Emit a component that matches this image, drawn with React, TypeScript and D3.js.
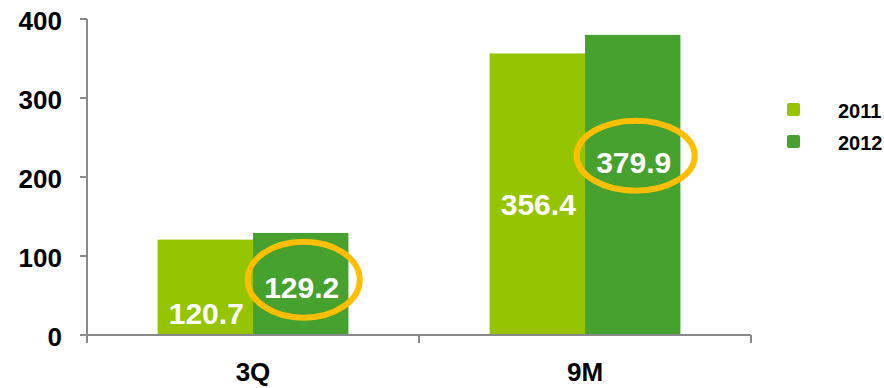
import React from "react";
import * as d3 from "d3";

const categories = ["3Q", "9M"];
const seriesNames = ["2011", "2012"];
const values2011 = [120.7, 356.4];
const values2012 = [129.2, 379.9];
const yTicks = [0, 100, 200, 300, 400];
// label anchor heights (in data units) for the value labels
const labelAt2011 = [28, 167];
const labelAt2012 = [61, 220];
const highlightAt = [70, 227];

const colors = ["#95C500", "#46A12F"];
const W = 884, H = 388;
const x0 = 87, x1 = 751, yTop = 19, yBase = 335;

export default function App() {
  const y = d3.scaleLinear().domain([0, 400]).range([yBase, yTop]);
  const xCat = d3.scaleBand().domain(categories).range([x0, x1]).padding(0);
  const xSer = d3.scaleBand().domain(seriesNames).range([0, xCat.bandwidth()]).paddingOuter(0.74).paddingInner(0);
  const series = [values2011, values2012];
  const labelAts = [labelAt2011, labelAt2012];
  const font = "'Liberation Sans', Arial, sans-serif";
  return (
    <svg width={W} height={H} style={{ position: "absolute", left: 0, top: 0 }} fontFamily={font}>
      <rect width={W} height={H} fill="#fff" />
      {categories.map((c, ci) =>
        seriesNames.map((s, si) => {
          const v = series[si][ci];
          const bx = (xCat(c) as number) + (xSer(s) as number);
          return (
            <rect key={c + s} x={bx} y={y(v)} width={xSer.bandwidth()} height={yBase - y(v)} fill={colors[si]} />
          );
        })
      )}
      {/* axes */}
      <line x1={x0} y1={yTop} x2={x0} y2={yBase + 8} stroke="#898989" strokeWidth={2} />
      <line x1={x0} y1={yBase} x2={x1} y2={yBase} stroke="#898989" strokeWidth={2} />
      {yTicks.map((t) => (
        <g key={t}>
          <line x1={80} x2={x0} y1={y(t)} y2={y(t)} stroke="#898989" strokeWidth={2} />
          <text x={62} y={y(t) + 2} textAnchor="end" dominantBaseline="central" fontSize={26} fontWeight="bold" fill="#000">
            {t}
          </text>
        </g>
      ))}
      {categories.map((c) => (
        <g key={c}>
          <line x1={(xCat(c) as number) + xCat.bandwidth()} x2={(xCat(c) as number) + xCat.bandwidth()} y1={yBase} y2={yBase + 8} stroke="#898989" strokeWidth={2} />
          <text x={(xCat(c) as number) + xCat.bandwidth() / 2} y={381} textAnchor="middle" fontSize={26} fontWeight="bold" fill="#000">
            {c}
          </text>
        </g>
      ))}
      {/* value labels */}
      {categories.map((c, ci) =>
        seriesNames.map((s, si) => {
          const bx = (xCat(c) as number) + (xSer(s) as number) + xSer.bandwidth() / 2;
          return (
            <text key={"l" + c + s} x={bx + 1} y={y(labelAts[si][ci]) + 1} textAnchor="middle" dominantBaseline="central" fontSize={30} fontWeight="bold" fill="#fff">
              {series[si][ci].toFixed(1)}
            </text>
          );
        })
      )}
      {/* highlight ellipses */}
      {categories.map((c, ci) => {
        const bx = (xCat(c) as number) + (xSer("2012") as number) + xSer.bandwidth() / 2;
        return (
          <ellipse key={"e" + c} cx={bx + 3} cy={y(highlightAt[ci])} rx={ci === 0 ? 56 : 59} ry={ci === 0 ? 38 : 35} fill="none" stroke="#FFBF00" strokeWidth={6} />
        );
      })}
      {/* legend */}
      {seriesNames.map((s, i) => (
        <g key={"lg" + s}>
          <rect x={787} y={103 + i * 32} width={13} height={13} rx={2} fill={colors[i]} />
          <text x={838} y={118 + i * 32} fontSize={20} fontWeight="bold" fill="#000">
            {s}
          </text>
        </g>
      ))}
    </svg>
  );
}
